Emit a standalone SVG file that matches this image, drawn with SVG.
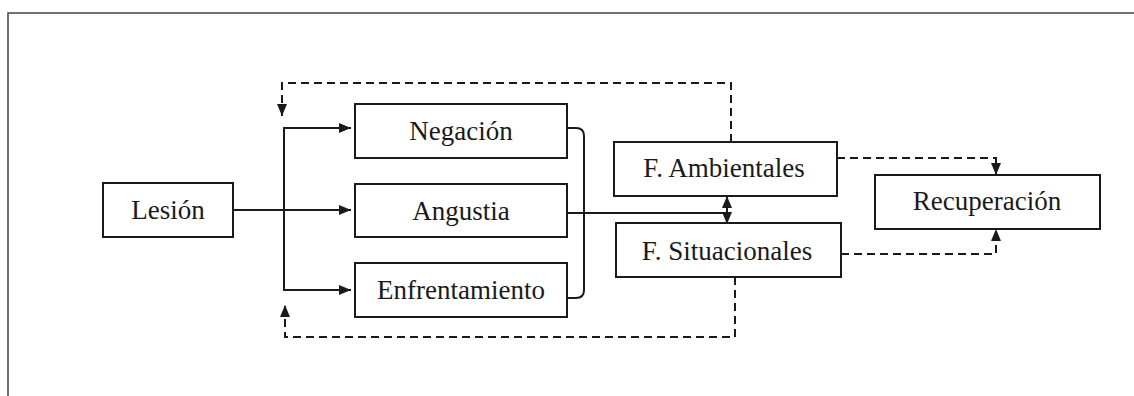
<svg xmlns="http://www.w3.org/2000/svg" width="1134" height="396" viewBox="0 0 1134 396">
<style>
.box{fill:#fff;stroke:#1a1a1a;stroke-width:2}
.lbl{font-family:"Liberation Serif","DejaVu Serif",serif;font-size:27px;fill:#1a1a1a;text-anchor:middle}
.ln{fill:none;stroke:#1a1a1a;stroke-width:2}
.dash{fill:none;stroke:#1a1a1a;stroke-width:2;stroke-dasharray:8 5}
</style>
<defs>
<marker id="ah" viewBox="0 0 12 10" refX="12" refY="5" markerWidth="12" markerHeight="10" markerUnits="userSpaceOnUse" orient="auto">
<path d="M0,0 L12,5 L0,10 Z" fill="#1a1a1a"/>
</marker>
</defs>
<rect width="1134" height="396" fill="#fff"/>
<path d="M8,396 V13 H1134" fill="none" stroke="#444" stroke-width="1.5"/>
<g id="connectors">
<path class="ln" d="M233,210 H351" marker-end="url(#ah)"/>
<path class="ln" d="M351,128 H284 V290 H351" marker-end="url(#ah)"/>
<path class="ln" d="M284,128 H351" marker-end="url(#ah)"/>
<path class="ln" d="M566,128 H576 Q584,128 584,136 V290 Q584,298 576,298 H566"/>
<path class="ln" d="M567,213 H727"/>
<path class="ln" d="M727,212 V196" marker-end="url(#ah)"/>
<path class="ln" d="M727,208 V224" marker-end="url(#ah)"/>
<path class="dash" d="M731,142 V83 H282 V116" marker-end="url(#ah)"/>
<path class="dash" d="M735,277 V337 H285 V305" marker-end="url(#ah)"/>
<path class="dash" d="M837,158 H996 V175" marker-end="url(#ah)"/>
<path class="dash" d="M841,254 H996 V229" marker-end="url(#ah)"/>
</g>
<g id="lesion"><rect class="box" x="103" y="183" width="130" height="54"/><text class="lbl" x="168" y="219">Lesión</text></g>
<g id="negacion"><rect class="box" x="355" y="104" width="212" height="54"/><text class="lbl" x="461" y="140">Negación</text></g>
<g id="angustia"><rect class="box" x="355" y="184" width="212" height="53"/><text class="lbl" x="461" y="220">Angustia</text></g>
<g id="enfrentamiento"><rect class="box" x="355" y="263" width="212" height="54"/><text class="lbl" x="461" y="299">Enfrentamiento</text></g>
<g id="ambientales"><rect class="box" x="614" y="142" width="223" height="54"/><text class="lbl" x="724" y="177">F. Ambientales</text></g>
<g id="situacionales"><rect class="box" x="616" y="223" width="225" height="54"/><text class="lbl" x="727" y="260">F. Situacionales</text></g>
<g id="recuperacion"><rect class="box" x="875" y="175" width="225" height="54"/><text class="lbl" x="987" y="210">Recuperación</text></g>
</svg>
